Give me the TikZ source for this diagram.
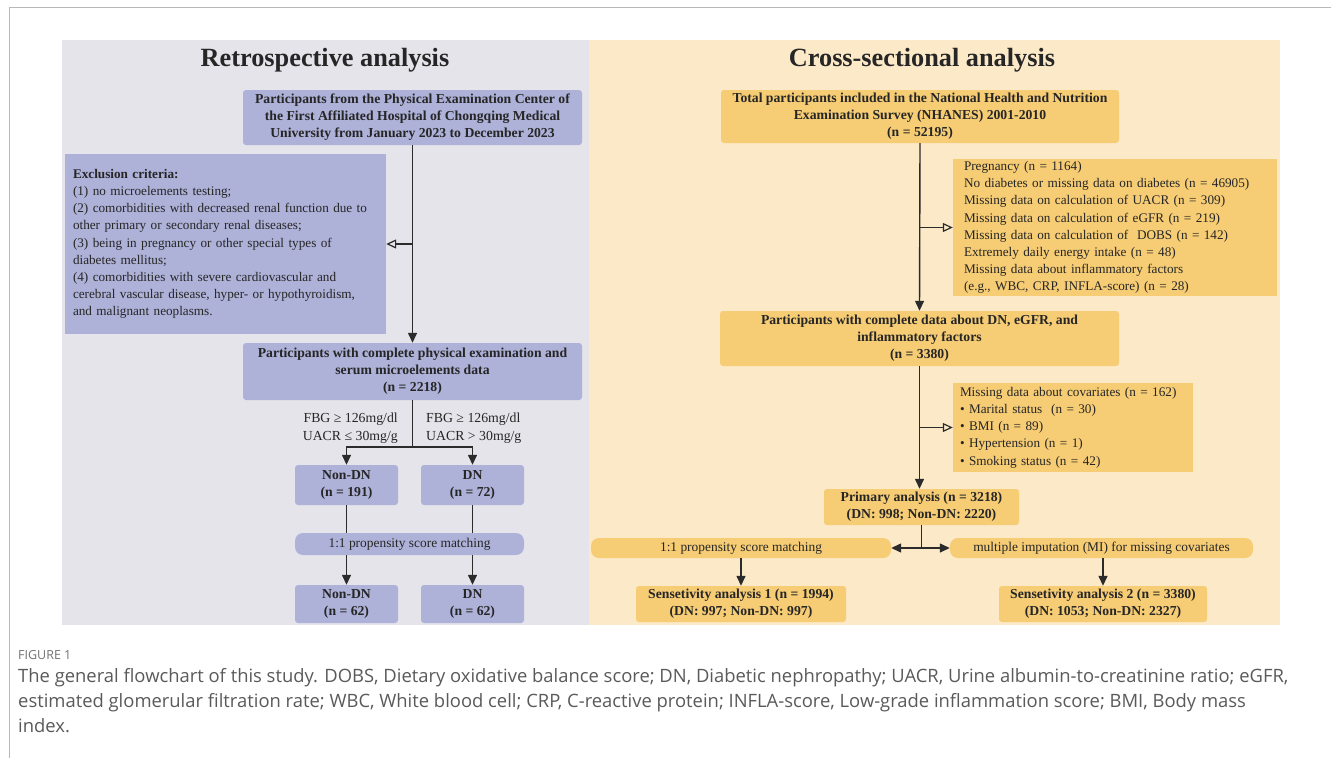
\documentclass[tikz,border=0pt]{standalone}
\usepackage{fontspec}
\setmainfont{Liberation Serif}
\newfontfamily\capfont{Open Sans}
\usetikzlibrary{arrows.meta}
\definecolor{leftbg}{HTML}{E4E4EA}
\definecolor{rightbg}{HTML}{FCE9C8}
\definecolor{pbox}{HTML}{AEB1D8}
\definecolor{obox}{HTML}{F6CC74}
\definecolor{linec}{HTML}{2B2B2B}
\definecolor{capc}{HTML}{5A5A5A}
\definecolor{framec}{HTML}{B8B8B8}
\tikzset{
  stepbase/.style={rounded corners=3pt, inner sep=0pt, align=center, font=\fontsize{13.7}{17}\selectfont\bfseries, text=black!85},
  pstep/.style={stepbase, fill=pbox},
  ostep/.style={stepbase, fill=obox},
  exclbase/.style={inner sep=0pt, align=left, font=\fontsize{13.2}{17.2}\selectfont, text=black!85},
  pexcl/.style={exclbase, fill=pbox},
  oexcl/.style={exclbase, fill=obox},
  pillbase/.style={rounded corners=8pt, inner sep=0pt, align=center, font=\fontsize{13.4}{15}\selectfont, text=black!85},
  ppill/.style={pillbase, fill=pbox},
  opill/.style={pillbase, fill=obox},
  conn/.style={draw=linec, line width=1.4pt},
  arr/.style={conn, -{Triangle[length=10pt,width=9pt]}},
  openarr/.style={conn, -{Triangle[open, length=10pt, width=9pt, line width=1.2pt]}},
  titlestyle/.style={font=\fontsize{26.3}{30}\selectfont\bfseries, text=black!85},
  lbl/.style={font=\fontsize{13.8}{17.5}\selectfont, text=black!85, inner sep=0pt}
}
\begin{document}
\begin{tikzpicture}[x=1pt,y=-1pt]
\useasboundingbox (0,0) rectangle (1331,758);
\fill[white] (0,0) rectangle (1331,758);
% frame
\draw[framec, line width=1.5pt] (9.5,758) -- (9.5,7.5) -- (1331,7.5);
% panels
\fill[leftbg] (62,40) rectangle (589,625);
\fill[rightbg] (589,40) rectangle (1280,625);
% titles
\node[titlestyle] (t1) at (325,60) {Retrospective analysis};
\node[titlestyle] (t2) at (922,60) {Cross-sectional analysis};

% ---------- left flow ----------
\node[pstep, minimum width=339pt, minimum height=55pt] (b1) at (412.5,117.5)
  {Participants from the Physical Examination Center of\\the First Affiliated Hospital of Chongqing Medical\\University from January 2023 to December 2023};
\node[pexcl, minimum width=321pt, minimum height=180pt, text width=305pt] (ex1) at (225.5,244)
  {\textbf{Exclusion criteria:}\\(1) no microelements testing;\\(2) comorbidities with decreased renal function due to\\other primary or secondary renal diseases;\\(3) being in pregnancy or other special types of\\diabetes mellitus;\\(4) comorbidities with severe cardiovascular and\\cerebral vascular disease, hyper- or hypothyroidism,\\and malignant neoplasms.};
\node[pstep, minimum width=339pt, minimum height=57pt] (b2) at (412.5,371.5)
  {Participants with complete physical examination and\\serum microelements data\\(n = 2218)};
\node[pstep, minimum width=103pt, minimum height=40pt] (nd1) at (346.5,485) {Non-DN\\(n = 191)};
\node[pstep, minimum width=103pt, minimum height=40pt] (dn1) at (472.5,485) {DN\\(n = 72)};
\node[ppill, minimum width=229pt, minimum height=22pt] (psm1) at (409.5,544) {1:1 propensity score matching};
\node[pstep, minimum width=103pt, minimum height=38pt] (nd2) at (346.5,604) {Non-DN\\(n = 62)};
\node[pstep, minimum width=103pt, minimum height=38pt] (dn2) at (472.5,604) {DN\\(n = 62)};
\node[lbl, anchor=east, align=right] (c1) at (398,428) {FBG ≥ 126mg/dl\\UACR ≤ 30mg/g};
\node[lbl, anchor=west, align=left] (c2) at (426,428) {FBG ≥ 126mg/dl\\UACR > 30mg/g};

\coordinate (j1) at (b1.south |- ex1.east);
\coordinate (s1) at (412.5,447);
\draw[arr] (b1.south) -- (b2.north);
\draw[openarr] (j1) -- (ex1.east);
\draw[conn] (b2.south) -- (s1);
\draw[arr] (s1) -| (nd1.north);
\draw[arr] (s1) -| (dn1.north);
\draw[conn] (nd1.south) -- (nd1.south |- psm1.north);
\draw[conn] (dn1.south) -- (dn1.south |- psm1.north);
\draw[arr] (nd2.north |- psm1.south) -- (nd2.north);
\draw[arr] (dn2.north |- psm1.south) -- (dn2.north);

% ---------- right flow ----------
\node[ostep, minimum width=398pt, minimum height=53pt] (r1) at (920,116.5)
  {Total participants included in the National Health and Nutrition\\Examination Survey (NHANES) 2001-2010\\(n = 52195)};
\node[oexcl, minimum width=324pt, minimum height=137pt, text width=302pt] (ex2) at (1115,227.5)
  {Pregnancy (n = 1164)\\No diabetes or missing data on diabetes (n = 46905)\\Missing data on calculation of UACR (n = 309)\\Missing data on calculation of eGFR (n = 219)\\Missing data on calculation of \ DOBS (n = 142)\\Extremely daily energy intake (n = 48)\\Missing data about inflammatory factors\\(e.g., WBC, CRP, INFLA-score) (n = 28)};
\node[ostep, minimum width=399pt, minimum height=55pt] (r2) at (919.5,338.5)
  {Participants with complete data about DN, eGFR, and\\inflammatory factors\\(n = 3380)};
\node[oexcl, minimum width=240pt, minimum height=89pt, text width=226pt] (ex3) at (1073,427.5)
  {Missing data about covariates (n = 162)\\• Marital status \ (n = 30)\\• BMI (n = 89)\\• Hypertension (n = 1)\\• Smoking status (n = 42)};
\node[ostep, minimum width=195pt, minimum height=36pt] (r3) at (921.5,507) {Primary analysis (n = 3218)\\(DN: 998; Non-DN: 2220)};
\node[opill, minimum width=300pt, minimum height=20pt] (psm2) at (741,548) {1:1 propensity score matching};
\node[opill, minimum width=303pt, minimum height=20pt] (mi) at (1101.5,548) {multiple imputation (MI) for missing covariates};
\node[ostep, minimum width=210pt, minimum height=36pt] (s1b) at (741,604) {Sensetivity analysis 1 (n = 1994)\\(DN: 997; Non-DN: 997)};
\node[ostep, minimum width=208pt, minimum height=36pt] (s2b) at (1103,604) {Sensetivity analysis 2 (n = 3380)\\(DN: 1053; Non-DN: 2327)};

\coordinate (j2) at (r1.south |- ex2.west);
\coordinate (j3) at (r1.south |- ex3.west);
\coordinate (s2) at (r3.south |- psm2.east);
\draw[arr] (r1.south) -- (r2.north);
\draw[openarr] (j2) -- (ex2.west);
\draw[arr] (r2.south) -- (r2.south |- r3.north);
\draw[openarr] (j3) -- (ex3.west);
\draw[conn] (r3.south) -- (s2);
\draw[arr] (s2) -- (psm2.east);
\draw[arr] (s2) -- (mi.west);
\draw[arr] (psm2.south) -- (s1b.north);
\draw[arr] (s2b.north |- mi.south) -- (s2b.north);

% ---------- caption ----------
\node[anchor=west, inner sep=0pt, font=\capfont\fontsize{12.5}{14}\selectfont, text=capc!85] (fig) at (18,655) {FIGURE 1};
\node[anchor=north west, inner sep=0pt, align=left, font=\capfont\fontsize{18.4}{25}\selectfont, text=capc] (cap) at (18,668)
  {The general flowchart of this study. DOBS, Dietary oxidative balance score; DN, Diabetic nephropathy; UACR, Urine albumin-to-creatinine ratio; eGFR,\\estimated glomerular filtration rate; WBC, White blood cell; CRP, C-reactive protein; INFLA-score, Low-grade inflammation score; BMI, Body mass\\index.};
\end{tikzpicture}
\end{document}
